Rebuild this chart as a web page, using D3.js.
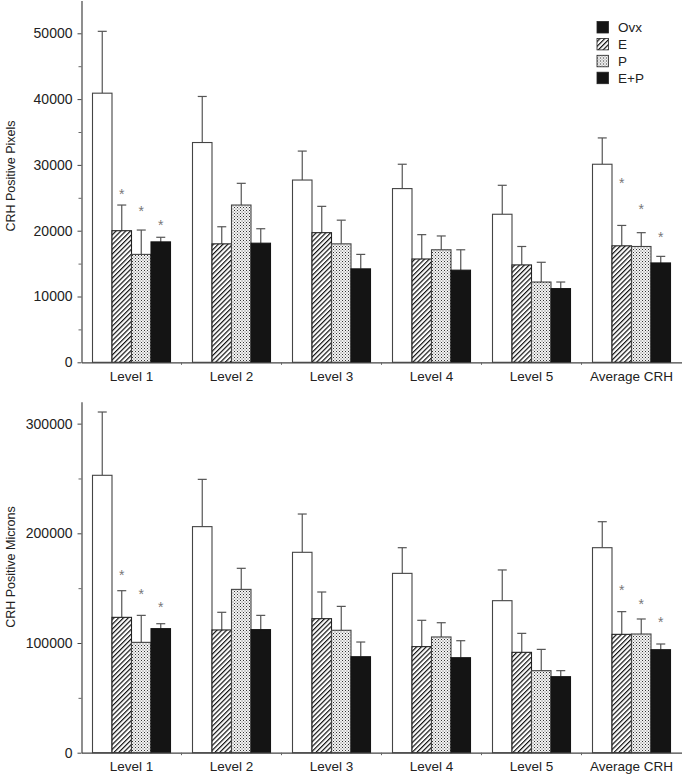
<!DOCTYPE html>
<html>
<head>
<meta charset="utf-8">
<script src="https://cdn.jsdelivr.net/npm/d3@7"></script>
<style>
  html, body { margin: 0; padding: 0; background: #fff; }
  svg { display: block; }
  text { font-family: "Liberation Sans", Arial, Helvetica, sans-serif; fill: #222; }
</style>
</head>
<body>
<svg id="chart" width="685" height="779"></svg>
<script>
// ---------- data ----------
const categories = ["Level 1", "Level 2", "Level 3", "Level 4", "Level 5", "Average CRH"];
const series = ["Ovx", "E", "P", "E+P"];

// Top panel: CRH Positive Pixels (mean, mean + SEM)
const pixelsOvx = [40900, 33400, 27700, 26400, 22500, 30100];
const pixelsE   = [20000, 18000, 19700, 15700, 14800, 17700];
const pixelsP   = [16400, 23900, 18000, 17100, 12200, 17600];
const pixelsEP  = [18300, 18100, 14200, 14000, 11200, 15100];
const pixelsOvxErr = [50300, 40400, 32100, 30100, 26900, 34100];
const pixelsEErr   = [23900, 20600, 23700, 19400, 17600, 20800];
const pixelsPErr   = [20100, 27200, 21600, 19200, 15200, 19700];
const pixelsEPErr  = [19000, 20300, 16400, 17100, 12200, 16100];
// significance asterisks: [category, series, value level]
const pixelsSig = [
  ["Level 1", "E", 25800], ["Level 1", "P", 23150], ["Level 1", "E+P", 21000],
  ["Average CRH", "E", 27450], ["Average CRH", "P", 23400], ["Average CRH", "E+P", 19200]
];
const pixelsTicks = [0, 10000, 20000, 30000, 40000, 50000];
const pixelsMinor = [5000, 15000, 25000, 35000, 45000];
const pixelsMax = 55000;

// Bottom panel: CRH Positive Microns
const micronsOvx = [252900, 206100, 182700, 163500, 138600, 186900];
const micronsE   = [123400, 111900, 122200, 96700, 91500, 107900];
const micronsP   = [100600, 148900, 111600, 105500, 74800, 108200];
const micronsEP  = [113100, 112200, 87500, 86600, 69300, 93900];
const micronsOvxErr = [310600, 249200, 217600, 186900, 166600, 210600];
const micronsEErr   = [147700, 128000, 146500, 120700, 108800, 128600];
const micronsPErr   = [125200, 168100, 133400, 118500, 94200, 121900];
const micronsEPErr  = [117600, 125200, 100900, 102100, 74800, 99100];
const micronsSig = [
  ["Level 1", "E", 162900], ["Level 1", "P", 145900], ["Level 1", "E+P", 133700],
  ["Average CRH", "E", 149500], ["Average CRH", "P", 136800], ["Average CRH", "E+P", 119800]
];
const micronsTicks = [0, 100000, 200000, 300000];
const micronsMinor = [50000, 150000, 250000];
const micronsMax = 320000;

// ---------- drawing ----------
const svg = d3.select("#chart");
const defs = svg.append("defs");

// diagonal hatch for E
const hatch = defs.append("pattern")
  .attr("id", "hatch").attr("patternUnits", "userSpaceOnUse")
  .attr("width", 3.4).attr("height", 3.4)
  .attr("patternTransform", "rotate(45)");
hatch.append("rect").attr("width", 3.4).attr("height", 3.4).attr("fill", "#fff");
hatch.append("line").attr("x1", 0).attr("y1", 0).attr("x2", 0).attr("y2", 3.4)
  .attr("stroke", "#111").attr("stroke-width", 2.4);

// stipple for P
const dots = defs.append("pattern")
  .attr("id", "dots").attr("patternUnits", "userSpaceOnUse")
  .attr("width", 3).attr("height", 3);
dots.append("rect").attr("width", 3).attr("height", 3).attr("fill", "#f4f4f4");
dots.append("rect").attr("x", 0).attr("y", 0).attr("width", 1).attr("height", 1).attr("fill", "#333");
dots.append("rect").attr("x", 1.5).attr("y", 1.5).attr("width", 1).attr("height", 1).attr("fill", "#666");

const fills = { "Ovx": "#fff", "E": "url(#hatch)", "P": "url(#dots)", "E+P": "#141414" };
const strokes = { "Ovx": "#444", "E": "#222", "P": "#444", "E+P": "#141414" };

const plotLeft = 81.5, plotRight = 681.5;

function panel(opts) {
  const g = svg.append("g");
  const x0 = d3.scaleBand().domain(categories).range([plotLeft, plotRight]).padding(0);
  const x1 = d3.scaleBand().domain(series).range([x0.bandwidth() * 0.11, x0.bandwidth() * 0.89]).padding(0);
  const y = d3.scaleLinear().domain([0, opts.max]).range([opts.bottom, opts.top]);

  const rows = [];
  categories.forEach((c, i) => {
    series.forEach((s, j) => {
      rows.push({ cat: c, ser: s, v: opts.values[j][i], e: opts.errs[j][i] });
    });
  });

  // error bars (upper only)
  const eb = g.append("g").attr("stroke", "#555").attr("stroke-width", 1.2).attr("fill", "none");
  rows.forEach(d => {
    const cx = x0(d.cat) + x1(d.ser) + x1.bandwidth() / 2;
    eb.append("line").attr("x1", cx).attr("x2", cx).attr("y1", y(d.v)).attr("y2", y(d.e));
    eb.append("line").attr("x1", cx - 4.5).attr("x2", cx + 4.5).attr("y1", y(d.e)).attr("y2", y(d.e));
  });

  // bars
  g.append("g").selectAll("rect").data(rows).join("rect")
    .attr("x", d => x0(d.cat) + x1(d.ser))
    .attr("y", d => y(d.v))
    .attr("width", x1.bandwidth())
    .attr("height", d => y(0) - y(d.v))
    .attr("fill", d => fills[d.ser])
    .attr("stroke", d => strokes[d.ser])
    .attr("stroke-width", 1.1);

  // asterisks
  g.append("g").selectAll("text").data(opts.sig).join("text")
    .attr("x", d => x0(d[0]) + x1(d[1]) + x1.bandwidth() / 2)
    .attr("y", d => y(d[2]) + 6)
    .attr("text-anchor", "middle")
    .style("font-size", "14px")
    .style("fill", "#777")
    .text("*");

  // y axis
  const ya = g.append("g").attr("transform", `translate(${plotLeft},0)`)
    .call(d3.axisLeft(y).tickValues(opts.ticks).tickFormat(d3.format("d")).tickSize(4).tickSizeOuter(0).tickPadding(5));
  ya.select(".domain").attr("stroke", "#444").attr("stroke-width", 1.2);
  ya.selectAll(".tick line").attr("stroke", "#444");
  ya.selectAll("text").style("font-size", "14px").style("font-family", '"Liberation Sans", Arial, sans-serif').attr("fill", "#222");
  const ym = g.append("g").attr("transform", `translate(${plotLeft},0)`)
    .call(d3.axisLeft(y).tickValues(opts.minor).tickFormat("").tickSize(3).tickSizeOuter(0));
  ym.select(".domain").remove();
  ym.selectAll(".tick line").attr("stroke", "#666");

  // x axis baseline + labels
  const xa = g.append("g").attr("transform", `translate(0,${opts.bottom})`)
    .call(d3.axisBottom(x0).tickSize(0).tickSizeOuter(0).tickPadding(9));
  xa.select(".domain").attr("stroke", "#444").attr("stroke-width", 1.2);
  xa.selectAll("text").style("font-size", "13.5px").style("font-family", '"Liberation Sans", Arial, sans-serif').attr("fill", "#222");
  // small ticks at group boundaries
  g.append("g").attr("stroke", "#666").selectAll("line")
    .data(categories.slice(1)).join("line")
    .attr("x1", d => x0(d)).attr("x2", d => x0(d))
    .attr("y1", opts.bottom).attr("y2", opts.bottom + 2.5);

  // y title
  g.append("text")
    .attr("transform", `translate(15,${opts.titleY}) rotate(-90)`)
    .attr("text-anchor", "middle")
    .style("font-size", "12.5px")
    .text(opts.title);
}

panel({
  values: [pixelsOvx, pixelsE, pixelsP, pixelsEP],
  errs: [pixelsOvxErr, pixelsEErr, pixelsPErr, pixelsEPErr],
  sig: pixelsSig, ticks: pixelsTicks, minor: pixelsMinor, max: pixelsMax,
  top: 0.4, bottom: 362.3, title: "CRH Positive Pixels", titleY: 176
});
panel({
  values: [micronsOvx, micronsE, micronsP, micronsEP],
  errs: [micronsOvxErr, micronsEErr, micronsPErr, micronsEPErr],
  sig: micronsSig, ticks: micronsTicks, minor: micronsMinor, max: micronsMax,
  top: 401.7, bottom: 752.7, title: "CRH Positive Microns", titleY: 567
});

// legend
const legendFills = { "Ovx": "#141414", "E": "url(#hatch)", "P": "url(#dots)", "E+P": "#141414" };
const lg = svg.append("g").attr("transform", "translate(597,21.5)");
const ly = d3.scalePoint().domain(series).range([0, 50.7]);
series.forEach(s => {
  lg.append("rect").attr("x", 0).attr("y", ly(s)).attr("width", 11.5).attr("height", 11.5)
    .attr("fill", legendFills[s]).attr("stroke", "#222").attr("stroke-width", 0.8);
  lg.append("text").attr("x", 21).attr("y", ly(s) + 6).attr("dy", "0.35em")
    .style("font-size", "13.5px").text(s);
});
</script>
</body>
</html>
